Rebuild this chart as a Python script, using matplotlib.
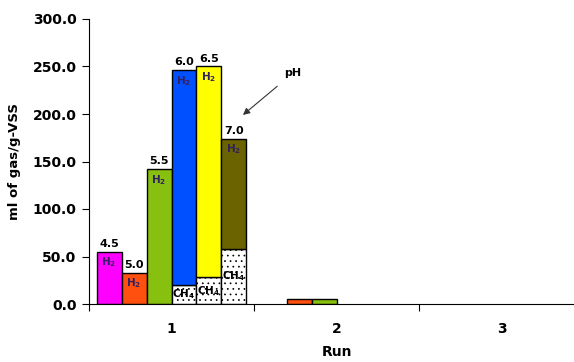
import matplotlib
matplotlib.use("Agg")
import matplotlib.pyplot as plt
import numpy as np

plt.rcParams['hatch.color'] = '#8a8a8a'
plt.rcParams['hatch.linewidth'] = 0.5

runs = ['1', '2', '3']
ph_labels = ['4.5', '5.0', '5.5', '6.0', '6.5', '7.0']
# H2 portion (on top of CH4) for each pH, per run
h2_run1 = [55.0, 33.0, 142.0, 226.0, 222.0, 116.0]
ch4_run1 = [0.0, 0.0, 0.0, 20.0, 28.0, 58.0]
h2_run2 = [0.0, 5.0, 5.0, 0.0, 0.0, 0.0]
ch4_run2 = [0.0, 0.0, 0.0, 0.0, 0.0, 0.0]
h2_run3 = [0.0, 0.0, 0.0, 0.0, 0.0, 0.0]
ch4_run3 = [0.0, 0.0, 0.0, 0.0, 0.0, 0.0]
colors = ['#FF00FF', '#FF5010', '#88C010', '#0050FF', '#FFFF00', '#6B6200']

h2 = np.array([h2_run1, h2_run2, h2_run3])
ch4 = np.array([ch4_run1, ch4_run2, ch4_run3])

fig = plt.figure(figsize=(5.74, 3.62), dpi=100)
ax = fig.add_axes([89/574, 58/362, 495/574, 285/362])

w = 0.1515
centers = np.arange(len(runs)) + 0.5
for k in range(len(ph_labels)):
    xs = centers + (k - 2.5) * w
    c4 = ch4[:, k]
    hh = h2[:, k]
    for i, x in enumerate(xs):
        if c4[i] > 0:
            ax.bar(x, c4[i], w, color='white', edgecolor='black', linewidth=1.0,
                   hatch='...', zorder=2)
        if hh[i] > 0:
            ax.bar(x, hh[i], w, bottom=c4[i], color=colors[k], edgecolor='black',
                   linewidth=1.0, zorder=2)
    # annotations for run 1
    x1 = xs[0]
    top = c4[0] + hh[0]
    ax.text(x1, top + 3, ph_labels[k], ha='center', va='bottom', fontsize=8,
            fontweight='bold', family='DejaVu Sans')
    ax.text(x1, top - 4, r'H$_\mathbf{2}$', ha='center', va='top', fontsize=7.5,
            fontweight='bold', color='#302060', zorder=3)
    if c4[0] > 0:
        ax.text(x1, c4[0] / 2, r'CH$_\mathbf{4}$', ha='center', va='center',
                fontsize=7.5, fontweight='bold', color='black', zorder=3)

ax.annotate('pH', xy=(0.933, 199), xytext=(1.236, 243), fontsize=8,
            fontweight='bold', family='DejaVu Sans', ha='center', va='center',
            arrowprops=dict(arrowstyle='-|>', color='#333333', lw=0.8,
                            mutation_scale=10, shrinkA=6, shrinkB=0))

ax.set_xlim(0, 3)
ax.set_ylim(0, 300)
ax.set_yticks(np.arange(0, 301, 50))
ax.set_yticklabels([f'{v:.1f}' for v in np.arange(0, 301, 50)])
ax.set_xticks([0, 1, 2, 3])
ax.set_xticklabels([])
ax.set_xticks(centers, minor=True)
ax.set_xticklabels(runs, minor=True)
ax.tick_params(axis='x', which='minor', length=0, pad=13)
ax.tick_params(axis='x', which='major', length=5, direction='out')
ax.tick_params(axis='y', length=5, direction='out', pad=4)
for lab in ax.get_yticklabels() + ax.get_xticklabels(minor=True):
    lab.set_fontfamily('DejaVu Sans')
    lab.set_fontweight('bold')
    lab.set_fontsize(10)

ax.spines['top'].set_visible(False)
ax.spines['right'].set_visible(False)
ax.set_ylabel('ml of gas/g-VSS', fontsize=9.5, fontweight='bold',
              family='DejaVu Sans', labelpad=8)
ax.set_xlabel('Run', fontsize=10, fontweight='bold', family='DejaVu Sans')
ax.xaxis.set_label_coords((337 - 89) / 495, -0.145)

fig.savefig('out.png', dpi=100)
